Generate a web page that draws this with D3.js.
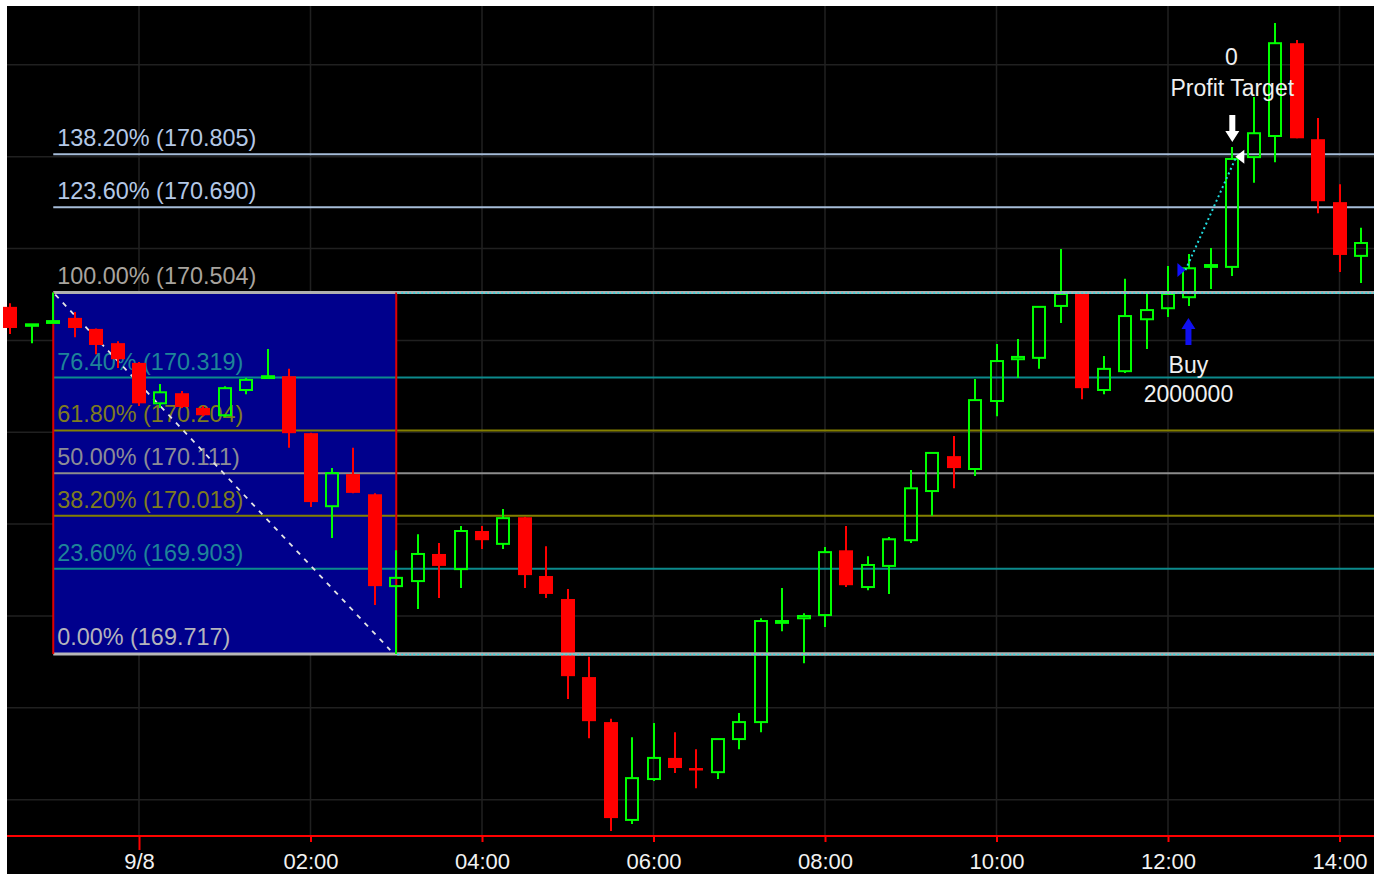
<!DOCTYPE html>
<html><head><meta charset="utf-8">
<script src="https://cdn.jsdelivr.net/npm/d3@7"></script>
<style>html,body{margin:0;padding:0;background:#fff;}svg{display:block;}text{font-family:"Liberation Sans",Arial,sans-serif;}</style>
</head><body><svg id="c" width="1385" height="874"></svg>
<script>
// ---- data ----
const times = [
"09-07 22:30","09-07 22:45","09-07 23:00","09-07 23:15","09-07 23:30","09-07 23:45",
"09-08 00:00","09-08 00:15","09-08 00:30","09-08 00:45","09-08 01:00","09-08 01:15","09-08 01:30","09-08 01:45",
"09-08 02:00","09-08 02:15","09-08 02:30","09-08 02:45","09-08 03:00","09-08 03:15","09-08 03:30","09-08 03:45",
"09-08 04:00","09-08 04:15","09-08 04:30","09-08 04:45","09-08 05:00","09-08 05:15","09-08 05:30","09-08 05:45",
"09-08 06:00","09-08 06:15","09-08 06:30","09-08 06:45","09-08 07:00","09-08 07:15","09-08 07:30","09-08 07:45",
"09-08 08:00","09-08 08:15","09-08 08:30","09-08 08:45","09-08 09:00","09-08 09:15","09-08 09:30","09-08 09:45",
"09-08 10:00","09-08 10:15","09-08 10:30","09-08 10:45","09-08 11:00","09-08 11:15","09-08 11:30","09-08 11:45",
"09-08 12:00","09-08 12:15","09-08 12:30","09-08 12:45","09-08 13:00","09-08 13:15","09-08 13:30","09-08 13:45",
"09-08 14:00","09-08 14:15"];
const open  = [170.473,170.432,170.438,170.449,170.425,170.394,170.351,170.263,170.285,170.253,170.237,170.292,170.318,170.322,
170.198,170.039,170.109,170.065,169.865,169.876,169.935,169.902,169.985,169.957,170.015,169.887,169.837,169.667,169.569,169.356,
169.445,169.491,169.469,169.460,169.532,169.569,169.785,169.795,169.802,169.943,169.863,169.909,169.965,170.072,170.148,170.120,
170.268,170.359,170.362,170.475,170.503,170.292,170.333,170.446,170.470,170.494,170.560,170.560,170.799,170.845,171.047,170.838,
170.701,170.584];
const high  = [170.481,170.436,170.504,170.462,170.426,170.398,170.353,170.305,170.290,170.257,170.300,170.318,170.381,170.338,
170.199,170.122,170.166,170.067,169.943,169.978,169.959,169.996,169.996,170.033,170.016,169.952,169.859,169.711,169.576,169.536,
169.567,169.547,169.510,169.532,169.589,169.795,169.861,169.806,169.950,169.996,169.930,169.972,170.118,170.155,170.192,170.316,
170.392,170.403,170.473,170.599,170.503,170.366,170.534,170.503,170.562,170.588,170.601,170.821,170.930,171.091,171.054,170.884,
170.740,170.645];
const low   = [170.414,170.394,170.437,170.407,170.370,170.340,170.257,170.253,170.253,170.235,170.233,170.283,170.317,170.166,
170.037,169.970,170.067,169.824,169.717,169.815,169.839,169.861,169.946,169.946,169.861,169.839,169.619,169.534,169.332,169.347,
169.441,169.458,169.425,169.445,169.510,169.547,169.767,169.697,169.776,169.863,169.856,169.848,169.959,170.018,170.078,170.105,
170.235,170.318,170.338,170.438,170.272,170.283,170.329,170.381,170.451,170.475,170.512,170.540,170.743,170.788,170.840,170.677,
170.549,170.525];
const close = [170.427,170.435,170.442,170.427,170.390,170.359,170.263,170.287,170.255,170.237,170.296,170.314,170.322,170.198,
170.048,170.111,170.068,169.865,169.883,169.935,169.909,169.985,169.965,170.013,169.889,169.848,169.669,169.571,169.360,169.447,
169.491,169.469,169.465,169.532,169.569,169.789,169.789,169.800,169.939,169.867,169.911,169.967,170.078,170.155,170.122,170.270,
170.355,170.364,170.473,170.501,170.296,170.338,170.453,170.466,170.501,170.557,170.564,170.795,170.851,171.047,170.840,170.703,
170.586,170.612];

const fibPercents = [0, 23.6, 38.2, 50, 61.8, 76.4, 100, 123.6, 138.2];
const fibPrices   = [169.717, 169.903, 170.018, 170.111, 170.204, 170.319, 170.504, 170.690, 170.805];
const fibStart = "09-07 23:00", fibEnd = "09-08 03:00";

const gridPrices = [169.4, 169.6, 169.8, 170.0, 170.2, 170.4, 170.6, 170.8, 171.0];
const tickTimes  = ["09-08 00:00","09-08 02:00","09-08 04:00","09-08 06:00","09-08 08:00","09-08 10:00","09-08 12:00","09-08 14:00"];
const tickLabels = ["9/8","02:00","04:00","06:00","08:00","10:00","12:00","14:00"];

const entryTime = "09-08 12:15", entryPrice = 170.553;
const exitTime  = "09-08 12:45", exitPrice  = 170.800;
const entryLabels = ["Buy", "2000000"];
const exitLabels  = ["0", "Profit Target"];

// ---- styles ----
const fibLineColor = ["#b8b8b8","#0c8a8c","#848000","#8c8c8c","#848000","#0c8a8c","#b0b0b0","#a6bcd8","#a6bcd8"];
const fibTextColor = ["#b4b4bc","#1e8498","#7e7c20","#8c8c96","#7e7c20","#1e8498","#a8a49e","#b4c8e6","#b4c8e6"];
const fibWidth     = [3,2,2,2,2,2,3,2,2];

// ---- scales ----
const parse = d3.timeParse("%Y-%m-%d %H:%M");
const T = s => parse("2015-" + s);
const dates = times.map(T);
const x = d3.scaleTime().domain([dates[0], dates[dates.length-1]]).range([10.375, 1360.94]);
const y = d3.scaleLinear().domain([169.321, 171.128]).range([836, 6]);
const L = 7, R = 1374, TOP = 6, BOT = 836;

const svg = d3.select("#c");
svg.append("rect").attr("x",L).attr("y",TOP).attr("width",R-L).attr("height",874-TOP).attr("fill","#000");

// grid
const grid = svg.append("g").attr("stroke","#202020").attr("stroke-width",1.5);
grid.selectAll("line.h").data(gridPrices).join("line").attr("class","h")
  .attr("x1",L).attr("x2",R).attr("y1",d=>y(d)).attr("y2",d=>y(d));
grid.selectAll("line.v").data(tickTimes.map(T)).join("line").attr("class","v")
  .attr("x1",d=>x(d)).attr("x2",d=>x(d)).attr("y1",TOP).attr("y2",BOT);

// fib rectangle
const fx0 = x(T(fibStart)), fx1 = x(T(fibEnd));
const pHi = fibPrices[6], pLo = fibPrices[0];
svg.append("rect").attr("x",fx0).attr("y",y(pHi)).attr("width",fx1-fx0).attr("height",y(pLo)-y(pHi)).attr("fill","#00008c");

// fib lines
const fib = fibPercents.map((p,i)=>({p, price:fibPrices[i], i}));
svg.append("g").selectAll("line").data(fib).join("line")
  .attr("x1",fx0).attr("x2",R).attr("y1",d=>y(d.price)).attr("y2",d=>y(d.price))
  .attr("stroke",d=>fibLineColor[d.i]).attr("stroke-width",d=>fibWidth[d.i]);
svg.append("g").selectAll("text").data(fib).join("text")
  .attr("x",fx0+4).attr("y",d=>y(d.price)-(fibWidth[d.i]>2?9:8))
  .attr("fill",d=>fibTextColor[d.i]).attr("font-size",23.4)
  .text(d=>d.p.toFixed(2)+"% ("+d.price.toFixed(3)+")");

// rect side borders
svg.append("g").attr("stroke","#e00000").attr("stroke-width",2).selectAll("line").data([fx0,fx1]).join("line")
  .attr("x1",d=>d).attr("x2",d=>d).attr("y1",y(pHi)).attr("y2",y(pLo));

// diagonal
svg.append("line").attr("x1",fx0+2).attr("y1",y(pHi)+2).attr("x2",fx1-6).attr("y2",y(pLo)-4)
  .attr("stroke","#e4e4e4").attr("stroke-width",1.8).attr("stroke-dasharray","5,6");

// candles
const data = dates.map((d,i)=>({d, o:open[i], h:high[i], l:low[i], c:close[i]}));
const cg = svg.append("g");
data.forEach(k=>{
  const cx = Math.round(x(k.d));
  const up = k.c >= k.o;
  const yt = y(Math.max(k.o,k.c)), yb = y(Math.min(k.o,k.c));
  if (up) {
    const col = "#00ff00";
    if (y(k.h) < yt-1) cg.append("line").attr("x1",cx).attr("x2",cx).attr("y1",y(k.h)).attr("y2",yt).attr("stroke",col).attr("stroke-width",2);
    if (y(k.l) > yb+1) cg.append("line").attr("x1",cx).attr("x2",cx).attr("y1",yb).attr("y2",y(k.l)).attr("stroke",col).attr("stroke-width",2);
    cg.append("rect").attr("x",cx-6).attr("y",yt).attr("width",12).attr("height",Math.max(yb-yt,1.5))
      .attr("fill","none").attr("stroke",col).attr("stroke-width",2);
  } else {
    const col = "#ff0000";
    cg.append("line").attr("x1",cx).attr("x2",cx).attr("y1",y(k.h)).attr("y2",y(k.l)).attr("stroke",col).attr("stroke-width",2);
    cg.append("rect").attr("x",cx-7).attr("y",yt).attr("width",14).attr("height",Math.max(yb-yt,2.5)).attr("fill",col);
  }
});

// extension of 100% and 0% lines (drawn over candles)
[fibPrices[6], fibPrices[0]].forEach(p=>{
  svg.append("line").attr("x1",fx1+1).attr("x2",R).attr("y1",y(p)).attr("y2",y(p)).attr("stroke","#b0b0b0").attr("stroke-width",3);
  svg.append("line").attr("x1",fx1+1).attr("x2",R).attr("y1",y(p)+0.5).attr("y2",y(p)+0.5).attr("stroke","#22e0e8").attr("stroke-width",1.5).attr("stroke-dasharray","2,2");
});

// trade
const ex = x(T(entryTime)), ey = y(entryPrice), xx = x(T(exitTime)), xy = y(exitPrice);
svg.append("line").attr("x1",ex-4).attr("y1",ey).attr("x2",xx+4).attr("y2",xy)
  .attr("stroke","#20dde0").attr("stroke-width",2).attr("stroke-dasharray","2,3");
svg.append("path").attr("d",`M${ex-12},${ey-7}L${ex-4},${ey}L${ex-12},${ey+7}Z`).attr("fill","#1010ff");
svg.append("path").attr("d",`M${xx+12},${xy-7}L${xx+3},${xy}L${xx+12},${xy+7}Z`).attr("fill","#ffffff");
// arrows
const eIdx = times.indexOf(entryTime), xIdx = times.indexOf(exitTime);
const at = y(low[eIdx]) + 12;
svg.append("path").attr("fill","#1010f0")
  .attr("d",`M${ex-1},${at}L${ex+6},${at+11}L${ex+2},${at+11}L${ex+2},${at+27}L${ex-4},${at+27}L${ex-4},${at+11}L${ex-8},${at+11}Z`);
const dt = y(high[xIdx]) - 5;
svg.append("path").attr("fill","#ffffff")
  .attr("d",`M${xx},${dt}L${xx+7},${dt-11}L${xx+3},${dt-11}L${xx+3},${dt-27}L${xx-3},${dt-27}L${xx-3},${dt-11}L${xx-7},${dt-11}Z`);
svg.append("text").attr("x",ex-1).attr("y",at+55).attr("text-anchor","middle").attr("fill","#f0f0f0").attr("font-size",23).text(entryLabels[0]);
svg.append("text").attr("x",ex-1).attr("y",at+84).attr("text-anchor","middle").attr("fill","#f0f0f0").attr("font-size",23).text(entryLabels[1]);
svg.append("text").attr("x",xx-1).attr("y",dt-77).attr("text-anchor","middle").attr("fill","#f0f0f0").attr("font-size",23).text(exitLabels[0]);
svg.append("text").attr("x",xx).attr("y",dt-46).attr("text-anchor","middle").attr("fill","#f0f0f0").attr("font-size",23).text(exitLabels[1]);

// x axis
svg.append("line").attr("x1",L).attr("x2",R).attr("y1",BOT).attr("y2",BOT).attr("stroke","#ff0000").attr("stroke-width",2);
const ax = svg.append("g").attr("transform",`translate(0,${BOT})`)
  .call(d3.axisBottom(x).tickValues(tickTimes.map(T)).tickFormat((d,i)=>tickLabels[i]).tickSize(6).tickSizeOuter(0));
ax.select(".domain").remove();
ax.selectAll(".tick line").attr("stroke","#ff0000").attr("stroke-width",2).attr("y2",(d,i)=>i===0?14:6);
ax.selectAll(".tick text").attr("fill","#f2f2f2").attr("font-size",22).attr("font-family","Liberation Sans, Arial, sans-serif").attr("y",33).attr("dy",0);
</script></body></html>
